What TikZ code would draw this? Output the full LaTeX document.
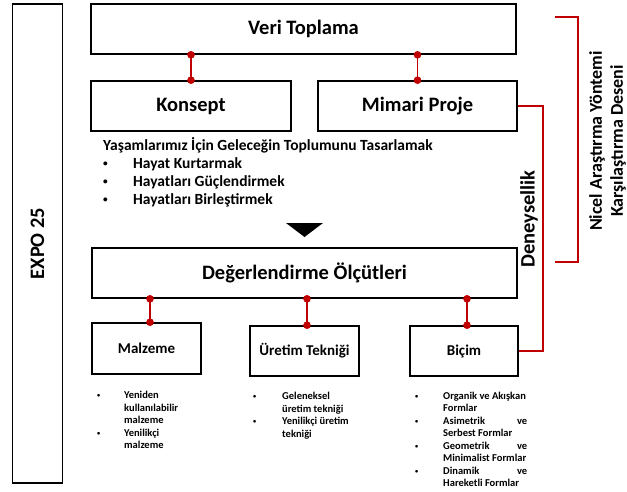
\documentclass[tikz,border=0pt]{standalone}
\usepackage{fontspec}
\setmainfont{Carlito}
\usepackage{xcolor}
\usetikzlibrary{arrows.meta}

\definecolor{linkred}{HTML}{C00000}
\newcommand{\dotmark}{\raisebox{0.12em}{\scalebox{0.6}{•}}}

\begin{document}
\begin{tikzpicture}[x=1pt, y=-1pt,
        box/.style={draw=black, line width=1.6pt, inner sep=0pt, font=\fontsize{20.5}{24}\selectfont\bfseries},
        smallbox/.style={box, font=\fontsize{15}{18}\selectfont\bfseries},
        link/.style={draw=linkred, line width=1.5pt, {Circle[length=7.5pt]}-{Circle[length=7.5pt]}, shorten <=-3.75pt, shorten >=-3.75pt},
        bracket/.style={draw=linkred, line width=1.5pt},
        note/.style={inner sep=0pt, anchor=north west, font=\fontsize{10.5}{12.5}\selectfont\bfseries}]

        \useasboundingbox (0, 0) rectangle (627, 491);

        \node (expo) at (37.5, 243.5)[box, rotate=90, minimum width=479pt, minimum height=50pt] {EXPO 25};

        \node (veri) at (303.5, 29)[box, minimum width=425pt, minimum height=50pt] {Veri Toplama};

        \node (konsept) at (191, 106)[box, minimum width=200pt, minimum height=50pt] {Konsept};

        \node (mimari) at (417.5, 106)[box, minimum width=199pt, minimum height=50pt] {Mimari Proje};

        \draw[link] (konsept.north) -- (konsept.north |- veri.south);
        \draw[link] (mimari.north) -- (mimari.north |- veri.south);

        \node (aims) at (103, 137.5)[anchor=north west, inner sep=0pt, align=left, font=\fontsize{15.5}{18}\selectfont\bfseries] {Yaşamlarımız İçin Geleceğin Toplumunu Tasarlamak\\
            \makebox[30pt][l]{\dotmark}Hayat Kurtarmak\\
            \makebox[30pt][l]{\dotmark}Hayatları Güçlendirmek\\
            \makebox[30pt][l]{\dotmark}Hayatları Birleştirmek};

        % down arrow head
        \fill (286, 223) -- (323, 223) -- (304.5, 237) -- cycle;

        \node (olcut) at (304.5, 273)[box, minimum width=425pt, minimum height=50pt] {Değerlendirme Ölçütleri};

        \node (malzeme) at (146.5, 348.5)[smallbox, minimum width=109pt, minimum height=51pt] {Malzeme};

        \node (uretim) at (304.5, 351)[smallbox, minimum width=109pt, minimum height=50pt] {Üretim Tekniği};

        \node (bicim) at (464, 351)[smallbox, minimum width=108pt, minimum height=50pt] {Biçim};

        \draw[link] ([xshift=3.5pt]malzeme.north) -- ([xshift=3.5pt]malzeme.north |- olcut.south);
        \draw[link] ([xshift=2.5pt]uretim.north) -- ([xshift=2.5pt]uretim.north |- olcut.south);
        \draw[link] ([xshift=3pt]bicim.north) -- ([xshift=3pt]bicim.north |- olcut.south);

        \node (malzemenote) at (97, 390)[note] {\begin{tabular}{@{}p{27pt}@{}p{70pt}@{}}
            \dotmark & Yeniden\newline kullanılabilir\newline malzeme\\
            \dotmark & Yenilikçi\newline malzeme
        \end{tabular}};

        \node (uretimnote) at (253, 391)[note] {\begin{tabular}{@{}p{29pt}@{}p{80pt}@{}}
            \dotmark & Geleneksel\newline üretim tekniği\\
            \dotmark & Yenilikçi üretim\newline tekniği
        \end{tabular}};

        \node (bicimnote) at (415, 390.5)[note] {\begin{tabular}{@{}p{28pt}@{}p{84pt}@{}}
            \dotmark & Organik ve Akışkan\newline Formlar\\
            \dotmark & Asimetrik\hfill ve\newline Serbest Formlar\\
            \dotmark & Geometrik\hfill ve\newline Minimalist Formlar\\
            \dotmark & Dinamik\hfill ve\newline Hareketli Formlar
        \end{tabular}};

        % side brackets
        \draw[bracket] (mimari.east) -- ++(25, 0) |- (bicim.east);

        \node (deney) at (529, 219)[rotate=90, inner sep=0pt, font=\fontsize{20.5}{24}\selectfont\bfseries] {Deneysellik};

        \coordinate (niceltop) at (555, 17);
        \coordinate (nicelbottom) at (555, 262);
        \draw[bracket] (niceltop) -- ++(23, 0) |- (nicelbottom);

        \node (nicel) at (607.5, 141)[rotate=90, align=center, inner sep=0pt, font=\fontsize{18}{21}\selectfont\bfseries] {Nicel Araştırma Yöntemi\\Karşılaştırma Deseni};
    \end{tikzpicture}
\end{document}
